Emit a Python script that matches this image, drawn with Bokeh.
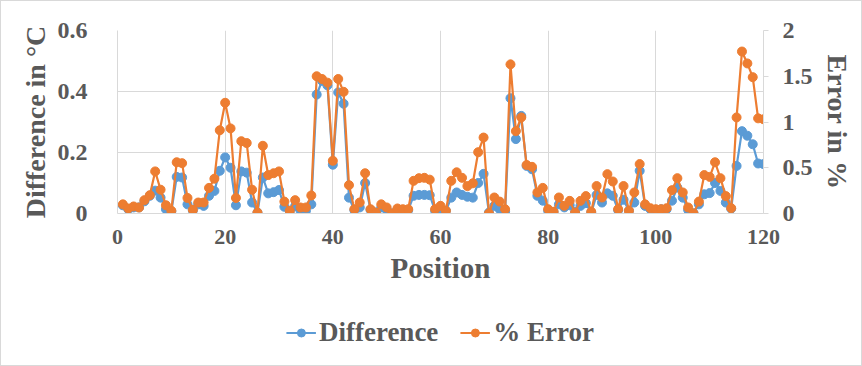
from bokeh.plotting import figure
from bokeh.models import Range1d, LinearAxis, Legend, LegendItem, FixedTicker, ColumnDataSource
from bokeh.layouts import column
from bokeh.embed import file_html
from bokeh.resources import INLINE

positions = list(range(1, 121))
difference = [0.027, 0.014, 0.02, 0.02, 0.04, 0.058, 0.075, 0.052, 0.014, 0.007,
              0.12, 0.118, 0.03, 0.01, 0.03, 0.025, 0.058, 0.074, 0.14, 0.184,
              0.15, 0.027, 0.138, 0.134, 0.036, 0.003, 0.118, 0.066, 0.07, 0.077,
              0.022, 0.007, 0.024, 0.009, 0.009, 0.03, 0.39, 0.435, 0.42, 0.16,
              0.397, 0.36, 0.052, 0.011, 0.02, 0.10, 0.012, 0.003, 0.02, 0.012,
              0.0, 0.012, 0.011, 0.011, 0.058, 0.061, 0.061, 0.06, 0.009, 0.014,
              0.009, 0.052, 0.069, 0.061, 0.055, 0.052, 0.10, 0.13, 0.003, 0.025,
              0.014, 0.007, 0.378, 0.244, 0.32, 0.156, 0.145, 0.058, 0.042, 0.009,
              0.005, 0.03, 0.02, 0.027, 0.005, 0.025, 0.034, 0.003, 0.061, 0.036,
              0.066, 0.058, 0.011, 0.045, 0.009, 0.036, 0.14, 0.025, 0.014, 0.012,
              0.014, 0.014, 0.042, 0.085, 0.052, 0.012, 0.001, 0.03, 0.063, 0.067,
              0.10, 0.074, 0.036, 0.016, 0.156, 0.27, 0.255, 0.227, 0.164, 0.162]
error_pct = [0.10, 0.055, 0.077, 0.066, 0.146, 0.20, 0.46, 0.26, 0.09, 0.03,
             0.56, 0.55, 0.17, 0.04, 0.12, 0.12, 0.28, 0.38, 0.91, 1.21,
             0.93, 0.17, 0.79, 0.77, 0.26, 0.01, 0.74, 0.42, 0.44, 0.46,
             0.13, 0.03, 0.146, 0.066, 0.066, 0.197, 1.50, 1.47, 1.43, 0.576,
             1.47, 1.33, 0.31, 0.047, 0.12, 0.44, 0.047, 0.01, 0.10, 0.066,
             0.0, 0.055, 0.047, 0.047, 0.357, 0.386, 0.39, 0.37, 0.047, 0.084,
             0.03, 0.357, 0.45, 0.39, 0.30, 0.33, 0.67, 0.83, 0.0, 0.175,
             0.13, 0.047, 1.63, 0.90, 1.05, 0.53, 0.51, 0.23, 0.28, 0.047,
             0.018, 0.175, 0.084, 0.138, 0.01, 0.138, 0.19, 0.02, 0.30, 0.175,
             0.43, 0.35, 0.047, 0.30, 0.03, 0.23, 0.54, 0.10, 0.058, 0.047,
             0.047, 0.058, 0.255, 0.386, 0.23, 0.066, 0.0, 0.13, 0.42, 0.40,
             0.56, 0.386, 0.19, 0.058, 1.05, 1.77, 1.64, 1.49, 1.04, 1.03]

x_ticks = [0, 20, 40, 60, 80, 100, 120]
left_ticks = [0, 0.2, 0.4, 0.6]
right_ticks = [0, 0.5, 1, 1.5, 2]

BLUE = "#5B9BD5"
ORANGE = "#ED7D31"
GRID = "#D9D9D9"
TEXT = "#595959"
FONT = "Liberation Serif"

src = ColumnDataSource(dict(pos=positions, diff=difference, err=error_pct))

p = figure(width=860, height=298, output_backend="svg", toolbar_location=None,
           x_range=Range1d(0, 120), y_range=Range1d(0, 0.6),
           min_border_left=116, min_border_right=98, min_border_top=29, min_border_bottom=86)
p.extra_y_ranges = {"err": Range1d(0, 2)}
p.outline_line_color = None
p.background_fill_color = "white"
p.border_fill_color = "white"

# grids
p.xgrid.ticker = FixedTicker(ticks=x_ticks)
p.ygrid.ticker = FixedTicker(ticks=left_ticks)
p.xgrid.grid_line_color = GRID
p.ygrid.grid_line_color = GRID
p.xgrid.grid_line_width = 1
p.ygrid.grid_line_width = 1

def style_axis(ax, size):
    ax.major_label_text_font = FONT
    ax.major_label_text_font_style = "bold"
    ax.major_label_text_font_size = size
    ax.major_label_text_color = TEXT
    ax.axis_label_text_font = FONT
    ax.axis_label_text_font_style = "bold"
    ax.axis_label_text_color = TEXT
    ax.axis_line_color = GRID
    ax.minor_tick_line_color = None

xa = p.xaxis[0]
style_axis(xa, "22px")
xa.ticker = FixedTicker(ticks=x_ticks)
xa.major_tick_line_color = None
xa.major_label_standoff = 10
xa.axis_label = "Position"
xa.axis_label_text_font_size = "29px"
xa.axis_label_standoff = 5

ya = p.yaxis[0]
style_axis(ya, "24px")
ya.ticker = FixedTicker(ticks=left_ticks)
ya.major_tick_line_color = None
ya.major_label_standoff = 24
ya.axis_label = "Difference in °C"
ya.axis_label_text_font_size = "28px"
ya.axis_label_standoff = 4

ra = LinearAxis(y_range_name="err")
style_axis(ra, "24px")
ra.ticker = FixedTicker(ticks=right_ticks)
ra.major_tick_line_color = GRID
ra.major_tick_out = 5
ra.major_tick_in = 0
ra.major_label_standoff = 14
ra.axis_label = "Error in %"
ra.axis_label_text_font_size = "28px"
ra.axis_label_standoff = 6
p.add_layout(ra, "right")

p.line("pos", "diff", source=src, line_color=BLUE, line_width=2.2)
p.scatter("pos", "diff", source=src, size=9, fill_color=BLUE, line_color=BLUE)
p.line("pos", "err", source=src, y_range_name="err", line_color=ORANGE, line_width=2.2)
p.scatter("pos", "err", source=src, y_range_name="err", size=9, fill_color=ORANGE, line_color=ORANGE)

# legend strip (same series, view range set away from data so only the legend shows)
lf = figure(width=860, height=66, output_backend="svg", toolbar_location=None,
            x_range=Range1d(1000, 1001), y_range=Range1d(1000, 1001),
            x_axis_type=None, y_axis_type=None,
            min_border_left=0, min_border_right=0, min_border_top=0, min_border_bottom=0)
lf.outline_line_color = None
lf.xgrid.visible = False
lf.ygrid.visible = False
ll1 = lf.line("pos", "diff", source=src, line_color=BLUE, line_width=2.2)
ls1 = lf.scatter("pos", "diff", source=src, size=7, fill_color=BLUE, line_color=BLUE)
ll2 = lf.line("pos", "err", source=src, line_color=ORANGE, line_width=2.2)
ls2 = lf.scatter("pos", "err", source=src, size=7, fill_color=ORANGE, line_color=ORANGE)

legend = Legend(items=[LegendItem(label="Difference", renderers=[ll1, ls1]),
                       LegendItem(label="% Error", renderers=[ll2, ls2])],
                orientation="horizontal", location="center",
                label_text_font=FONT, label_text_font_style="bold",
                label_text_font_size="27px", label_text_color=TEXT,
                glyph_width=30, glyph_height=20, label_standoff=3, spacing=22,
                padding=0, margin=0, border_line_color=None, background_fill_alpha=0)
lf.add_layout(legend, "center")

layout = column(p, lf, spacing=0, styles={"border": "1px solid #D9D9D9"})
open("out.html", "w").write(file_html(layout, INLINE))
